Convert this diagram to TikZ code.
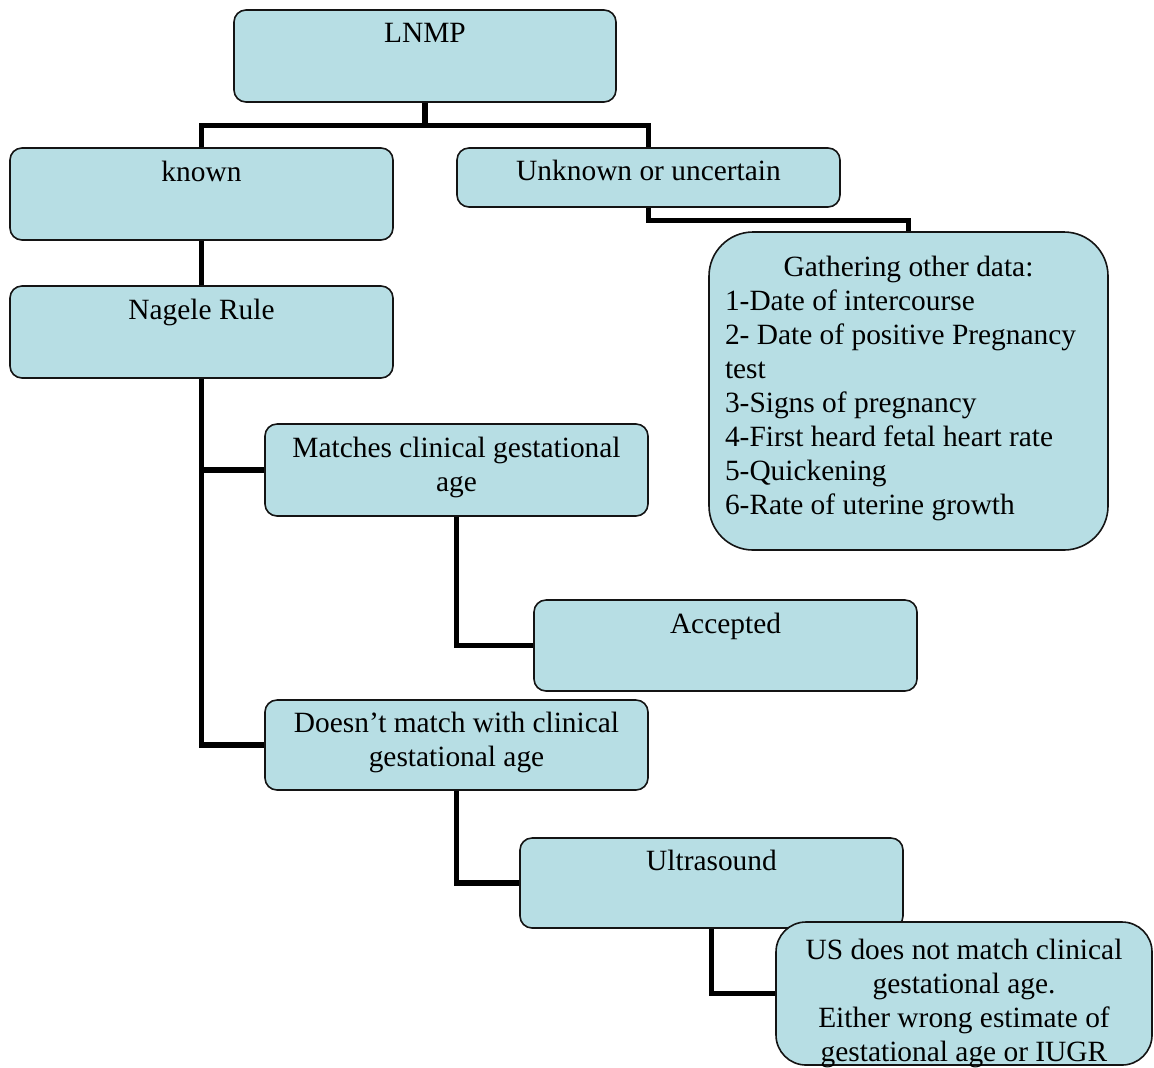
\documentclass[tikz,border=0pt]{standalone}
\usepackage{fontspec}
\setmainfont{Liberation Serif}
\usepackage{tikz}
\usetikzlibrary{positioning, calc}
\usepackage{xcolor}
\definecolor{boxcyan}{RGB}{183,222,228}
\definecolor{boxedge}{RGB}{20,20,20}
\tikzset{
  flowbox/.style={rectangle,rounded corners=6pt,draw=boxedge,line width=0.8pt,fill=boxcyan,inner sep=0pt,font=\fontsize{14.7}{17}\selectfont},
  bigbox/.style={flowbox,rounded corners=22pt},
  usnode/.style={flowbox,rounded corners=15pt},
  link/.style={line width=2.6pt,color=black}
}
%% text sits at the top of each box
\newcommand{\toptext}[4]{\parbox[c][#2][t]{#1}{\centering\vspace*{#3}#4}}

\begin{document}
\begin{tikzpicture}[x=0.5pt,y=-0.5pt]
  \clip (0,0) rectangle (1154,1067);

  %% Boxes
  \node[flowbox] (lnmp) at (425,56) {\toptext{191pt}{46pt}{6.5pt}{LNMP}};
  \node[flowbox] (known) at (201.5,194) {\toptext{191.5pt}{46pt}{6.5pt}{known}};
  \node[flowbox] (unknown) at (648.5,177.5) {\toptext{191.5pt}{29.5pt}{6pt}{Unknown or uncertain}};
  \node[flowbox] (nagele) at (201.5,332) {\toptext{191.5pt}{46pt}{6.5pt}{Nagele Rule}};
  \node[bigbox] (gather) at (908.5,391) {\parbox[c][159pt][t]{199.5pt}{\vspace*{12pt}%
      \centering Gathering other data:\par
      \raggedright\leftskip=8pt
      1-Date of intercourse\\
      2- Date of positive Pregnancy\\
      test\\
      3-Signs of pregnancy\\
      4-First heard fetal heart rate\\
      5-Quickening\\
      6-Rate of uterine growth}};
  \node[flowbox] (matches) at (456.5,470) {\toptext{191.5pt}{46pt}{6.5pt}{Matches clinical gestational\\age}};
  \node[flowbox] (accepted) at (725.5,645.5) {\toptext{191.5pt}{45.5pt}{6.5pt}{Accepted}};
  \node[flowbox] (doesnt) at (456.5,745) {\toptext{191.5pt}{45pt}{6pt}{Doesn’t match with clinical\\gestational age}};
  \node[flowbox] (ultra) at (711.5,883) {\toptext{191.5pt}{45pt}{6pt}{Ultrasound}};
  \node[usnode] (usbox) at (964,993.5) {\toptext{188pt}{71.5pt}{8.5pt}{US does not match clinical\\gestational age.\\Either wrong estimate of\\gestational age or IUGR}};

  %% Links
  \draw[link] (lnmp.south) -- ++(0,23) -| (known.north);
  \draw[link] (lnmp.south) -- ++(0,23) -| (unknown.north);
  \draw[link] (known.south) -- (nagele.north);
  \draw[link] (nagele.south) |- (matches.west);
  \draw[link] (nagele.south) |- (doesnt.west);
  \draw[link] (matches.south) |- (accepted.west);
  \draw[link] (doesnt.south) |- (ultra.west);
  \draw[link] (ultra.south) |- (usbox.west);
  \draw[link] (unknown.south) -- ++(0,13) -| (gather.north);
\end{tikzpicture}
\end{document}
